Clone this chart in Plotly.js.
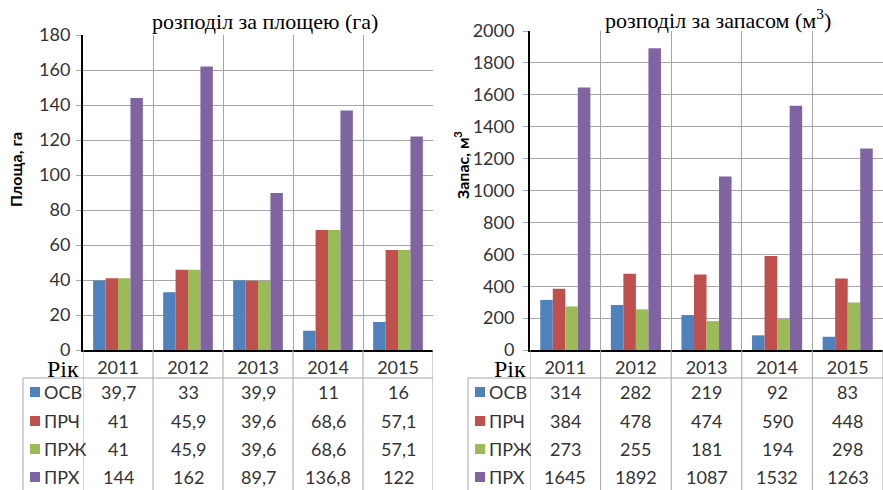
<!DOCTYPE html>
<html><head><meta charset="utf-8">
<script src="https://cdn.plot.ly/plotly-3.0.1.min.js"></script>
<style>body{margin:0;padding:0;background:#fff}#c{width:883px;height:490px}</style>
</head><body><div id="c"></div>
<script>
const years = ['2011','2012','2013','2014','2015'];
const seriesNames = ['ОСВ','ПРЧ','ПРЖ','ПРХ'];
const seriesColors = ['#4F81BD','#C0504D','#9BBB59','#8064A2'];
// area, ha
const areaOSV = [39.7, 33, 39.9, 11, 16];
const areaPRCH = [41, 45.9, 39.6, 68.6, 57.1];
const areaPRZH = [41, 45.9, 39.6, 68.6, 57.1];
const areaPRKH = [144, 162, 89.7, 136.8, 122];
// stock, m3
const stockOSV = [314, 282, 219, 92, 83];
const stockPRCH = [384, 478, 474, 590, 448];
const stockPRZH = [273, 255, 181, 194, 298];
const stockPRKH = [1645, 1892, 1087, 1532, 1263];

const W = 883, H = 490;
const px = x => x / W;
const py = y => 1 - y / H;

const areaSets = [areaOSV, areaPRCH, areaPRZH, areaPRKH];
const stockSets = [stockOSV, stockPRCH, stockPRZH, stockPRKH];

const traces = [];
areaSets.forEach((d, i) => traces.push({type:'bar', x: years, y: d, name: seriesNames[i],
  marker:{color: seriesColors[i]}, xaxis:'x', yaxis:'y', showlegend:false, hoverinfo:'skip'}));
stockSets.forEach((d, i) => traces.push({type:'bar', x: years, y: d, name: seriesNames[i],
  marker:{color: seriesColors[i]}, xaxis:'x2', yaxis:'y2', showlegend:false, hoverinfo:'skip'}));

const plotBottom = 350, tableTop = 378;
const rowY = [392, 421, 449, 477];
const fmt = v => String(v).replace('.', ',');
const tick = {family:'Lato, sans-serif', size:18, color:'#333'};

const annotations = [];
const shapes = [];

function table(sets, xr, leftBorder, keyX, rightEdge, axisX) {
  sets.forEach((d, r) => {
    d.forEach((v, c) => annotations.push({xref: xr, yref:'paper', x: c, y: py(rowY[r]),
      text: fmt(v), showarrow:false, font: tick, xanchor:'center', yanchor:'middle'}));
    annotations.push({xref:'paper', yref:'paper', x: px(keyX + 12), y: py(rowY[r]), text: seriesNames[r],
      showarrow:false, font: tick, xanchor:'left', yanchor:'middle'});
    shapes.push({type:'rect', xref:'paper', yref:'paper', x0: px(keyX), x1: px(keyX + 10),
      y0: py(rowY[r] + 5), y1: py(rowY[r] - 5), fillcolor: seriesColors[r], line:{width:0}});
  });
  for (let k = 0; k <= years.length; k++) {
    shapes.push({type:'line', xref: xr, yref:'paper', x0: k - 0.5, x1: k - 0.5,
      y0: 0, y1: py(plotBottom), line:{color:'#A6A6A6', width:1}});
  }
  shapes.push({type:'line', xref:'paper', yref:'paper', x0: px(leftBorder), x1: px(leftBorder),
    y0: 0, y1: py(tableTop), line:{color:'#A6A6A6', width:1}});
  shapes.push({type:'line', xref:'paper', yref:'paper', x0: px(leftBorder), x1: px(rightEdge),
    y0: py(tableTop), y1: py(tableTop), line:{color:'#A6A6A6', width:1}});
  annotations.push({xref:'paper', yref:'paper', x: px(axisX - 3), y: py(369), text:'Рік',
    showarrow:false, font:{family:'Liberation Serif, serif', size:24, color:'#000'},
    xanchor:'right', yanchor:'middle', borderpad:0});
}
table(areaSets, 'x', 23, 30, 433, 83);
table(stockSets, 'x2', 468, 475, 883, 530);

annotations.push({xref:'paper', yref:'paper', x: px(265), y: py(22), text:'розподіл за площею (га)',
  showarrow:false, font:{family:'Liberation Serif, serif', size:22, color:'#000'}, xanchor:'center', yanchor:'middle'});
annotations.push({xref:'paper', yref:'paper', x: px(718), y: py(19), text:'розподіл за запасом (м<sup>3</sup>)',
  showarrow:false, font:{family:'Liberation Serif, serif', size:22, color:'#000'}, xanchor:'center', yanchor:'middle'});
annotations.push({xref:'paper', yref:'paper', x: px(16), y: py(170), text:'<b>Площа, га</b>', textangle:-90,
  showarrow:false, font:{family:'Lato, sans-serif', size:16, color:'#000'}, xanchor:'center', yanchor:'middle'});
annotations.push({xref:'paper', yref:'paper', x: px(461), y: py(165), text:'<b>Запас, м<sup>3</sup></b>', textangle:-90,
  showarrow:false, font:{family:'Lato, sans-serif', size:16, color:'#000'}, xanchor:'center', yanchor:'middle'});

const xbase = {type:'category', tickson:'boundaries', showgrid:true, gridcolor:'#A6A6A6', gridwidth:1,
  showline:true, linecolor:'#000', linewidth:2, ticks:'', tickfont: tick, fixedrange:true, zeroline:false,
  range:[-0.5, 4.5], autorange:false, categoryorder:'array', categoryarray: years};
const ybase = {showgrid:true, gridcolor:'#A6A6A6', gridwidth:1, showline:true, linecolor:'#000', linewidth:2,
  ticks:'outside', ticklen:5, tickcolor:'#A6A6A6', tickfont: tick, zeroline:false, fixedrange:true};

const layout = {
  width: W, height: H, margin:{l:0, r:0, t:0, b:0}, paper_bgcolor:'#fff', plot_bgcolor:'#fff',
  barmode:'group', bargap: 0.29, bargroupgap: 0,
  xaxis: Object.assign({}, xbase, {domain:[px(83), px(433)], anchor:'y'}),
  yaxis: Object.assign({}, ybase, {domain:[py(350), py(35)], range:[0,180], dtick:20, anchor:'x', ticklabelstandoff:2}),
  xaxis2: Object.assign({}, xbase, {domain:[px(530), 1], anchor:'y2'}),
  yaxis2: Object.assign({}, ybase, {domain:[py(350), py(31)], range:[0,2000], dtick:200, anchor:'x2', ticklabelstandoff:5}),
  annotations, shapes
};
Plotly.newPlot('c', traces, layout, {displayModeBar:false, staticPlot:true});
</script></body></html>
